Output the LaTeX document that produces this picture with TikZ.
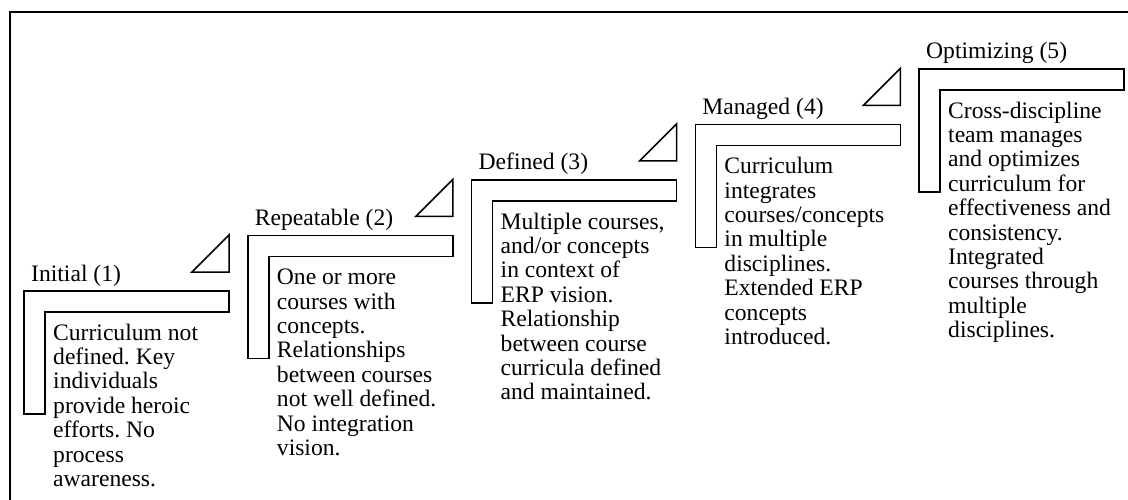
\documentclass[tikz,border=0pt]{standalone}
\usepackage{fontspec}
\setmainfont{Liberation Serif}
\frenchspacing
\begin{document}
\begin{tikzpicture}[x=1pt,y=-1pt,
  lw/.style={line width=1.5pt,line join=miter},
  frameline/.style={line width=2.2pt},
  stagetitle/.style={font=\fontsize{23.6}{24.4}\selectfont,inner sep=0pt,anchor=base west},
  stagetext/.style={font=\fontsize{23.6}{24.4}\selectfont,inner sep=0pt,align=left,anchor=north west},
  stepL/.pic={\draw[lw] (0,0) -- (205,0) -- (205,21) -- (21,21) -- (21,123) -- (0,123) -- cycle;},
  steptri/.pic={\draw[lw] (205,-19) -- (205,-56) -- (168,-19) -- cycle;}
]
\useasboundingbox (0,0) rectangle (1128,500);
\draw[frameline] (10,501) -- (10,12) -- (1129,12);

\pic at (24,291) {stepL};      \pic at (24,291) {steptri};
\pic at (247.75,235.5) {stepL}; \pic at (247.75,235.5) {steptri};
\pic at (471.5,180) {stepL};   \pic at (471.5,180) {steptri};
\pic at (695.25,124.5) {stepL}; \pic at (695.25,124.5) {steptri};
\pic at (919,69) {stepL};

\node[stagetitle] (t1) at (31,281) {Initial (1)};
\node[stagetitle] (t2) at (254.75,225.5) {Repeatable (2)};
\node[stagetitle] (t3) at (478.5,170) {Defined (3)};
\node[stagetitle] (t4) at (702.25,114.5) {Managed (4)};
\node[stagetitle] (t5) at (926,59) {Optimizing (5)};

\node[stagetext] (d1) at (53,322.9) {\strut Curriculum not\\defined. Key\\individuals\\provide heroic\\efforts. No\\process\\awareness.};
\node[stagetext] (d2) at (276.75,267.4) {\strut One or more\\courses with\\concepts.\\Relationships\\between courses\\not well defined.\\No integration\\vision.};
\node[stagetext] (d3) at (500.5,211.9) {\strut Multiple courses,\\and/or concepts\\in context of\\ERP vision.\\Relationship\\between course\\curricula defined\\and maintained.};
\node[stagetext] (d4) at (724.25,156.4) {\strut Curriculum\\integrates\\courses/concepts\\in multiple\\disciplines.\\Extended ERP\\concepts\\introduced.};
\node[stagetext] (d5) at (948,100.9) {\strut Cross-discipline\\team manages\\and optimizes\\curriculum for\\effectiveness and\\consistency.\\Integrated\\courses through\\multiple\\disciplines.};
\end{tikzpicture}
\end{document}
